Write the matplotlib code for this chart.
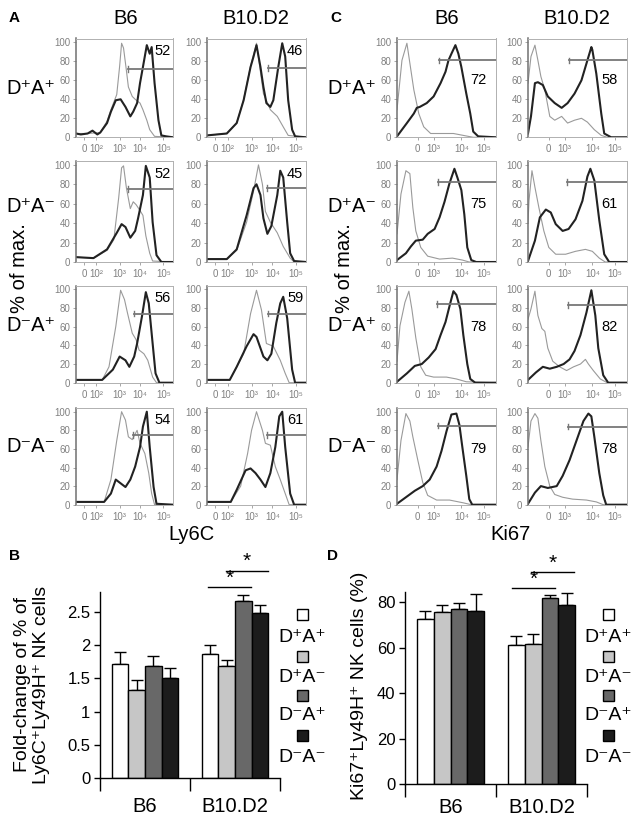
import matplotlib.pyplot as plt
import numpy as np
from matplotlib.patches import Rectangle

plt.rcParams['font.family'] = ['Liberation Sans', 'DejaVu Sans']

# ---- labels ----
groups = ['D⁺A⁺', 'D⁺A⁻', 'D⁻A⁺', 'D⁻A⁻']
strains = ['B6', 'B10.D2']

# ---- histogram curves: (channel position 0..1, % of max) ----
# Ly6C, thick = stained, thin = control
ly6c_b6_pp_thick = [(0, 4), (.05, 3), (.12, 4), (.17, 7), (.22, 3), (.25, 5), (.32, 15), (.36, 27), (.41, 39), (.46, 40), (.51, 32), (.56, 22), (.59, 27), (.63, 36), (.66, 57), (.69, 74), (.73, 97), (.76, 88), (.78, 95), (.81, 57), (.85, 18), (.88, 2), (.93, 1), (1, 0)]
ly6c_b6_pp_thin = [(0, 4), (.12, 4), (.25, 5), (.32, 17), (.36, 29), (.42, 45), (.45, 75), (.47, 99), (.49, 94), (.52, 70), (.54, 53), (.58, 43), (.61, 40), (.66, 36), (.69, 29), (.73, 18), (.76, 8), (.81, 1), (1, 0)]
ly6c_d2_pp_thick = [(0, 2), (.2, 4), (.3, 15), (.37, 39), (.44, 74), (.47, 85), (.5, 97), (.54, 74), (.57, 53), (.6, 36), (.64, 32), (.67, 39), (.72, 74), (.76, 99), (.79, 85), (.82, 39), (.86, 8), (.89, 1), (1, 0)]
ly6c_d2_pp_thin = [(0, 2), (.2, 4), (.3, 15), (.37, 40), (.44, 75), (.5, 99), (.57, 46), (.64, 29), (.71, 22), (.77, 11), (.82, 2), (1, 0)]

ly6c_b6_pm_thick = [(0, 5), (.18, 4), (.32, 13), (.42, 30), (.47, 39), (.51, 36), (.56, 25), (.61, 32), (.64, 45), (.69, 69), (.72, 99), (.76, 87), (.79, 41), (.83, 7), (.88, 0), (1, 0)]
ly6c_b6_pm_thin = [(0, 5), (.18, 4), (.32, 12), (.39, 23), (.44, 66), (.47, 97), (.49, 99), (.52, 76), (.56, 55), (.59, 62), (.62, 59), (.66, 53), (.69, 48), (.72, 27), (.76, 9), (.79, 1), (1, 0)]
ly6c_d2_pm_thick = [(0, 3), (.2, 3), (.3, 13), (.4, 48), (.47, 76), (.5, 80), (.54, 69), (.57, 45), (.61, 29), (.65, 37), (.71, 69), (.74, 94), (.77, 87), (.81, 41), (.84, 9), (.88, 1), (1, 0)]
ly6c_d2_pm_thin = [(0, 3), (.2, 3), (.3, 12), (.4, 41), (.47, 73), (.52, 100), (.56, 80), (.59, 52), (.64, 41), (.71, 30), (.77, 16), (.84, 4), (.88, 0), (1, 0)]

ly6c_b6_mp_thick = [(0, 3), (.27, 3), (.38, 14), (.45, 28), (.51, 24), (.55, 17), (.6, 28), (.63, 42), (.68, 71), (.72, 97), (.75, 85), (.79, 42), (.82, 10), (.86, 0), (1, 0)]
ly6c_b6_mp_thin = [(0, 3), (.27, 3), (.34, 17), (.41, 60), (.46, 99), (.5, 89), (.53, 75), (.58, 53), (.62, 46), (.65, 35), (.7, 31), (.74, 24), (.79, 6), (.83, 0), (1, 0)]
ly6c_d2_mp_thick = [(0, 3), (.23, 3), (.3, 17), (.4, 39), (.47, 52), (.5, 49), (.57, 28), (.61, 24), (.65, 31), (.7, 64), (.74, 85), (.77, 92), (.81, 69), (.86, 14), (.89, 0), (1, 0)]
ly6c_d2_mp_thin = [(0, 3), (.23, 3), (.37, 31), (.44, 74), (.5, 99), (.55, 78), (.6, 42), (.67, 39), (.74, 24), (.79, 10), (.83, 0), (1, 0)]

ly6c_b6_mm_thick = [(0, 3), (.29, 3), (.36, 12), (.41, 27), (.46, 23), (.51, 19), (.56, 27), (.61, 41), (.66, 62), (.69, 84), (.73, 100), (.76, 62), (.8, 19), (.83, 1), (1, 0)]
ly6c_b6_mm_thin = [(0, 3), (.29, 3), (.36, 27), (.42, 69), (.47, 100), (.51, 91), (.54, 73), (.58, 70), (.63, 80), (.66, 66), (.71, 55), (.75, 34), (.78, 12), (.81, 0), (1, 0)]
ly6c_d2_mm_thick = [(0, 3), (.24, 3), (.3, 16), (.39, 37), (.44, 39), (.49, 34), (.54, 27), (.59, 19), (.64, 34), (.69, 62), (.73, 95), (.76, 100), (.79, 62), (.84, 12), (.88, 0), (1, 0)]
ly6c_d2_mm_thin = [(0, 3), (.24, 3), (.34, 20), (.41, 55), (.45, 80), (.5, 100), (.56, 80), (.59, 66), (.64, 64), (.69, 41), (.74, 27), (.79, 12), (.83, 0), (1, 0)]

# Ki67
ki67_b6_pp_thick = [(0, 1), (.1, 15), (.17, 25), (.2, 31), (.23, 32), (.3, 36), (.37, 43), (.44, 57), (.49, 69), (.52, 81), (.55, 88), (.59, 97), (.62, 88), (.65, 74), (.7, 46), (.74, 25), (.77, 6), (.82, 1), (1, 0)]
ki67_b6_pp_thin = [(0, 29), (.05, 81), (.1, 99), (.13, 78), (.17, 50), (.22, 25), (.27, 11), (.34, 4), (.44, 4), (.57, 4), (.67, 2), (.77, 0), (1, 0)]
ki67_d2_pp_thick = [(0, 4), (.03, 22), (.07, 57), (.1, 58), (.15, 55), (.2, 43), (.27, 36), (.34, 31), (.4, 36), (.47, 46), (.54, 60), (.6, 81), (.64, 95), (.65, 92), (.69, 67), (.74, 25), (.77, 4), (.84, 0), (1, 0)]
ki67_d2_pp_thin = [(0, 57), (.03, 85), (.07, 97), (.1, 81), (.13, 64), (.17, 50), (.22, 22), (.27, 18), (.34, 22), (.4, 15), (.47, 18), (.54, 20), (.6, 16), (.67, 8), (.74, 2), (.8, 0), (1, 0)]

ki67_b6_pm_thick = [(0, 2), (.09, 9), (.14, 16), (.19, 22), (.26, 23), (.31, 29), (.38, 34), (.43, 46), (.48, 62), (.53, 81), (.58, 96), (.61, 87), (.65, 74), (.68, 49), (.71, 15), (.75, 2), (.8, 0), (1, 0)]
ki67_b6_pm_thin = [(0, 29), (.04, 70), (.09, 94), (.13, 91), (.16, 56), (.19, 32), (.24, 15), (.31, 6), (.43, 3), (.56, 4), (.66, 2), (.73, 0), (1, 0)]
ki67_d2_pm_thick = [(0, 1), (.07, 22), (.12, 46), (.18, 54), (.23, 51), (.28, 39), (.35, 32), (.41, 34), (.48, 44), (.55, 63), (.6, 88), (.63, 96), (.67, 84), (.72, 43), (.77, 8), (.82, 0), (1, 0)]
ki67_d2_pm_thin = [(0, 40), (.01, 63), (.04, 94), (.07, 77), (.11, 56), (.16, 32), (.21, 15), (.28, 8), (.38, 8), (.48, 11), (.58, 13), (.65, 11), (.72, 4), (.78, 0), (1, 0)]

ki67_b6_mp_thick = [(0, 1), (.1, 10), (.18, 18), (.25, 20), (.32, 27), (.39, 36), (.44, 51), (.49, 65), (.54, 86), (.57, 98), (.6, 94), (.64, 79), (.67, 51), (.71, 20), (.74, 4), (.79, 0), (1, 0)]
ki67_b6_mp_thin = [(0, 23), (.03, 61), (.08, 86), (.12, 98), (.15, 79), (.19, 48), (.24, 17), (.29, 8), (.37, 6), (.5, 6), (.6, 4), (.7, 1), (1, 0)]
ki67_d2_mp_thick = [(0, 3), (.08, 11), (.15, 17), (.22, 15), (.29, 17), (.36, 20), (.42, 25), (.47, 34), (.53, 51), (.59, 75), (.64, 99), (.68, 72), (.71, 37), (.76, 8), (.81, 0), (1, 0)]
ki67_d2_mp_thin = [(0, 68), (.03, 79), (.07, 98), (.1, 72), (.14, 58), (.17, 55), (.2, 37), (.25, 23), (.32, 17), (.39, 13), (.46, 17), (.53, 20), (.58, 25), (.61, 20), (.66, 13), (.73, 4), (.8, 0), (1, 0)]

ki67_b6_mm_thick = [(0, 1), (.09, 8), (.18, 15), (.26, 20), (.33, 27), (.4, 41), (.45, 58), (.5, 79), (.55, 97), (.6, 98), (.63, 86), (.66, 62), (.7, 31), (.73, 6), (.76, 0), (1, 0)]
ki67_b6_mm_thin = [(0, 27), (.04, 69), (.09, 98), (.13, 90), (.16, 73), (.21, 48), (.26, 24), (.31, 10), (.4, 5), (.53, 5), (.67, 2), (.75, 0), (1, 0)]
ki67_d2_mm_thick = [(0, 1), (.07, 13), (.13, 20), (.2, 18), (.29, 20), (.35, 31), (.42, 48), (.49, 69), (.56, 90), (.61, 98), (.64, 95), (.67, 73), (.72, 34), (.76, 10), (.79, 0), (1, 0)]
ki67_d2_mm_thin = [(0, 62), (.03, 90), (.07, 98), (.1, 93), (.13, 69), (.17, 41), (.22, 20), (.27, 11), (.35, 8), (.45, 6), (.59, 5), (.69, 3), (.76, 0), (1, 0)]

# gated percentages, gate start and gate level (rows = groups, cols = strains)
ly6c_pct = [[52, 46], [52, 45], [56, 59], [54, 61]]
ly6c_gate_x = [[.54, .62], [.54, .61], [.60, .62], [.59, .61]]
ly6c_gate_y = [[72, 73], [75, 76], [74, 74], [75, 75]]
ki67_pct = [[72, 58], [75, 61], [78, 82], [79, 78]]
ki67_gate_x = [[.42, .41], [.41, .39], [.40, .40], [.41, .40]]
ki67_gate_y = [[81, 81], [82, 82], [84, 83], [85, 84]]

ly6c_ticks = [.085, .21, .45, .66, .90]
ly6c_ticklabels = ['0', '10²', '10³', '10⁴', '10⁵']
ki67_ticks = [.21, .37, .65, .88]
ki67_ticklabels = ['0', '10³', '10⁴', '10⁵']

# ---- bar charts ----
fold_b6 = [1.71, 1.33, 1.68, 1.50]
fold_b6_err = [0.19, 0.15, 0.15, 0.15]
fold_d2 = [1.86, 1.69, 2.67, 2.48]
fold_d2_err = [0.14, 0.09, 0.09, 0.12]
ki_b6 = [72.5, 75.5, 76.9, 75.9]
ki_b6_err = [3.7, 3.1, 2.5, 7.6]
ki_d2 = [60.9, 61.5, 81.8, 78.9]
ki_d2_err = [4.1, 4.5, 1.3, 5.1]
# significance brackets (x0, x1, y)
fold_sig = [(0.70, 1.18, 2.87), (0.90, 1.37, 3.12)]
ki_sig = [(0.68, 1.15, 86), (0.88, 1.36, 93)]

bar_colors = ['white', '#c6c6c6', '#686868', '#1c1c1c']

W, H = 639, 824
fig = plt.figure(figsize=(W / 100, H / 100), dpi=100)


def px_axes(l, t, r, b):
    return fig.add_axes([l / W, 1 - b / H, (r - l) / W, (b - t) / H])


def ftext(x, y, s, **kw):
    fig.text(x / W, 1 - y / H, s, **kw)


curves = {
    'ly6c': [[(ly6c_b6_pp_thick, ly6c_b6_pp_thin), (ly6c_d2_pp_thick, ly6c_d2_pp_thin)],
             [(ly6c_b6_pm_thick, ly6c_b6_pm_thin), (ly6c_d2_pm_thick, ly6c_d2_pm_thin)],
             [(ly6c_b6_mp_thick, ly6c_b6_mp_thin), (ly6c_d2_mp_thick, ly6c_d2_mp_thin)],
             [(ly6c_b6_mm_thick, ly6c_b6_mm_thin), (ly6c_d2_mm_thick, ly6c_d2_mm_thin)]],
    'ki67': [[(ki67_b6_pp_thick, ki67_b6_pp_thin), (ki67_d2_pp_thick, ki67_d2_pp_thin)],
             [(ki67_b6_pm_thick, ki67_b6_pm_thin), (ki67_d2_pm_thick, ki67_d2_pm_thin)],
             [(ki67_b6_mp_thick, ki67_b6_mp_thin), (ki67_d2_mp_thick, ki67_d2_mp_thin)],
             [(ki67_b6_mm_thick, ki67_b6_mm_thin), (ki67_d2_mm_thick, ki67_d2_mm_thin)]],
}

rows_px = [(38.5, 137.3), (161, 262), (285.6, 382.7), (408, 504.7)]
cols_px = {'ly6c': [(76, 173), (207, 306)], 'ki67': [(397, 496), (528, 627)]}

for key in ['ly6c', 'ki67']:
    pct = ly6c_pct if key == 'ly6c' else ki67_pct
    gx = ly6c_gate_x if key == 'ly6c' else ki67_gate_x
    gy = ly6c_gate_y if key == 'ly6c' else ki67_gate_y
    ticks = ly6c_ticks if key == 'ly6c' else ki67_ticks
    tlabels = ly6c_ticklabels if key == 'ly6c' else ki67_ticklabels
    for r, (top, bot) in enumerate(rows_px):
        for c, (left, right) in enumerate(cols_px[key]):
            ax = px_axes(left, top, right, bot)
            thick, thin = curves[key][r][c]
            tx, ty = zip(*thin)
            ax.plot(tx, ty, color='#9a9a9a', lw=0.8)
            kx, ky = zip(*thick)
            ax.plot(kx, ky, color='#222222', lw=1.5)
            # gate
            ax.plot([gx[r][c], 1], [gy[r][c], gy[r][c]], color='#777777', lw=1.3, clip_on=False)
            ax.plot([gx[r][c], gx[r][c]], [gy[r][c] - 3, gy[r][c] + 3], color='#777777', lw=1.0)
            if key == 'ly6c':
                ax.text(0.89, 91, str(pct[r][c]), ha='center', va='center', fontsize=10.5)
            else:
                ax.text(0.82, 60, str(pct[r][c]), ha='center', va='center', fontsize=10.5)
            ax.set_xlim(0, 1)
            ax.set_ylim(0, 104)
            ax.set_yticks([0, 20, 40, 60, 80, 100])
            ax.set_xticks(ticks)
            ax.set_xticklabels(tlabels)
            ax.tick_params(labelsize=7, labelcolor='#808080', color='#999999', length=2, width=0.6, pad=2)
            ax.tick_params(axis='x', pad=3)
            for side in ['top', 'right', 'bottom']:
                ax.spines[side].set_color('#b0b0b0')
                ax.spines[side].set_linewidth(0.7)
            ax.spines['left'].set_color('#707070')
            ax.spines['left'].set_linewidth(1.1)

# column headers, row labels, axis titles
for x, s in [(126, 'B6'), (256, 'B10.D2'), (447, 'B6'), (577, 'B10.D2')]:
    ftext(x, 18, s, ha='center', va='center', fontsize=14.5)
for y, s in zip([88, 206, 326, 446], groups):
    ftext(31, y, s, ha='center', va='center', fontsize=14.5)
    ftext(352, y, s, ha='center', va='center', fontsize=14.5)
ftext(20, 268, '% of max.', rotation=90, ha='center', va='center', fontsize=14.5)
ftext(345, 268, '% of max.', rotation=90, ha='center', va='center', fontsize=14.5)
ftext(192, 534, 'Ly6C', ha='center', va='center', fontsize=14.5)
ftext(510, 534, 'Ki67', ha='center', va='center', fontsize=14.5)

for x, y, s in [(14, 18, 'A'), (336, 18, 'C'), (14, 556, 'B'), (333, 556, 'D')]:
    ftext(x, y, s, ha='center', va='center', fontsize=11, fontweight='bold')


def bar_panel(box, b6, b6e, d2, d2e, ylim, yticks, yticklabels, sig, labpad):
    ax = px_axes(*box)
    width = 0.185
    offsets = (np.arange(4) - 1.5) * width
    for i in range(4):
        vals = [b6[i], d2[i]]
        errs = [b6e[i], d2e[i]]
        xs = np.array([0, 1]) + offsets[i]
        ax.bar(xs, vals, width=width, color=bar_colors[i], edgecolor='black', linewidth=1.0, zorder=2)
        ax.errorbar(xs, vals, yerr=[[0, 0], errs], fmt='none', ecolor='black', elinewidth=1.0,
                    capsize=4.5, capthick=1.0, zorder=1)
    for x0, x1, y in sig:
        ax.plot([x0, x1], [y, y], color='black', lw=1.0, clip_on=False)
        ax.text((x0 + x1) / 2, y, '*', ha='center', va='bottom', fontsize=15, clip_on=False)
    ax.set_xlim(-0.5, 1.5)
    ax.set_ylim(*ylim)
    ax.set_yticks(yticks)
    ax.set_yticklabels(yticklabels)
    ax.set_xticks([-0.5, 0.5, 1.5])
    ax.set_xticklabels([])
    ax.set_xticks([0, 1], minor=True)
    ax.set_xticklabels(strains, minor=True)
    ax.tick_params(axis='x', which='major', length=9, width=1.0, direction='out')
    ax.tick_params(axis='x', which='minor', length=0, labelsize=14.5, pad=labpad)
    ax.tick_params(axis='y', length=4, width=1.0, labelsize=12, pad=3)
    ax.spines['top'].set_visible(False)
    ax.spines['right'].set_visible(False)
    ax.spines['left'].set_linewidth(1.0)
    ax.spines['bottom'].set_linewidth(1.0)
    return ax


bar_panel((100, 592, 280, 778), fold_b6, fold_b6_err, fold_d2, fold_d2_err, (0, 2.8),
          [0, 0.5, 1, 1.5, 2, 2.5], ['0', '0.5', '1', '1.5', '2', '2.5'], fold_sig, 14)
bar_panel((405, 592, 587, 784), ki_b6, ki_b6_err, ki_d2, ki_d2_err, (0, 84.4),
          [0, 20, 40, 60, 80], ['0', '20', '40', '60', '80'], ki_sig, 10)

ftext(32, 685, 'Fold-change of % of\nLy6C⁺Ly49H⁺ NK cells', rotation=90, ha='center', va='center',
      fontsize=14, multialignment='center', linespacing=1.1)
ftext(360, 686, 'Ki67⁺Ly49H⁺ NK cells (%)', rotation=90, ha='center', va='center', fontsize=14)

# legends
sq_y = [614, 656, 695, 735]
lab_y = [637, 677, 716, 757]
for cx in [302, 608]:
    for i in range(4):
        fig.add_artist(Rectangle(((cx - 5.5) / W, 1 - (sq_y[i] + 5.5) / H), 11 / W, 11 / H,
                                 facecolor=bar_colors[i], edgecolor='black', linewidth=1.0,
                                 transform=fig.transFigure))
        ftext(cx, lab_y[i], groups[i], ha='center', va='center', fontsize=14)

fig.savefig('out.png', dpi=100)
